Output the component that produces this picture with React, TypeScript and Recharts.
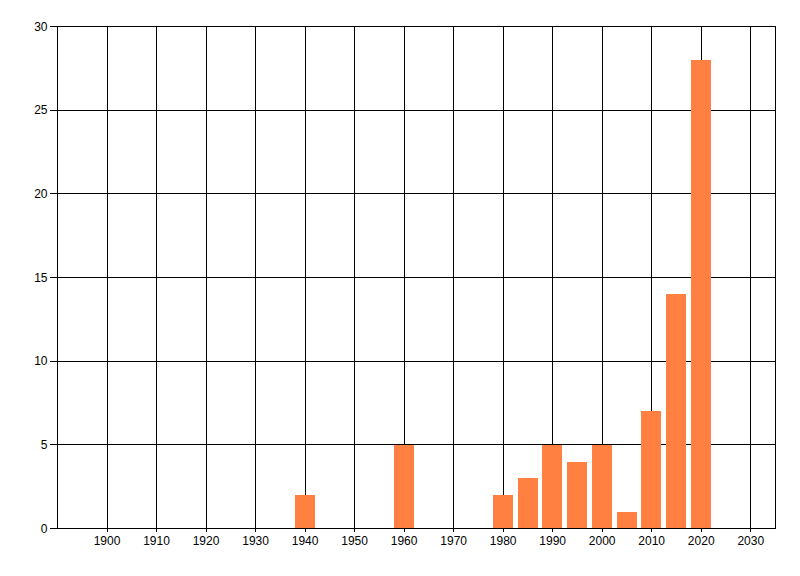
import React from "react";
import { BarChart, Bar, XAxis, YAxis, CartesianGrid } from "recharts";

const years = [1940, 1960, 1980, 1985, 1990, 1995, 2000, 2005, 2010, 2015, 2020];
const counts = [2, 5, 2, 3, 5, 4, 5, 1, 7, 14, 28];
const xTicks = [1900, 1910, 1920, 1930, 1940, 1950, 1960, 1970, 1980, 1990, 2000, 2010, 2020, 2030];
const yTicks = [0, 5, 10, 15, 20, 25, 30];

const data = years.map((year, i) => ({ year, count: counts[i] }));

const tickFont = {
  fontFamily: "'Liberation Sans Narrow', 'Liberation Sans', Arial, sans-serif",
  fontSize: 12,
  fill: "#000",
};

export default function App() {
  return (
    <div style={{ position: "absolute", left: 0, top: 0, width: 800, height: 576, background: "#fff" }}>
      <style>{".recharts-wrapper line, .recharts-wrapper path { shape-rendering: crispEdges; }"}</style>
      <BarChart
        width={800}
        height={576}
        data={data}
        margin={{ top: 26.5, right: 24.5, left: 0, bottom: 0 }}
      >
        <CartesianGrid stroke="#000" strokeWidth={1} />
        <XAxis
          dataKey="year"
          type="number"
          domain={[1890, 2035]}
          ticks={xTicks}
          allowDataOverflow
          height={47.5}
          stroke="#000"
          tickSize={3}
          tickMargin={5}
          tick={tickFont}
          tickLine={{ stroke: "#000" }}
          axisLine={{ stroke: "#000" }}
        />
        <YAxis
          type="number"
          domain={[0, 30]}
          ticks={yTicks}
          width={57.5}
          stroke="#000"
          tickSize={8}
          tickMargin={2}
          tick={tickFont}
          tickLine={{ stroke: "#000" }}
          axisLine={{ stroke: "#000" }}
        />
        <Bar dataKey="count" fill="#FF8040" barSize={20} isAnimationActive={false} />
      </BarChart>
    </div>
  );
}
